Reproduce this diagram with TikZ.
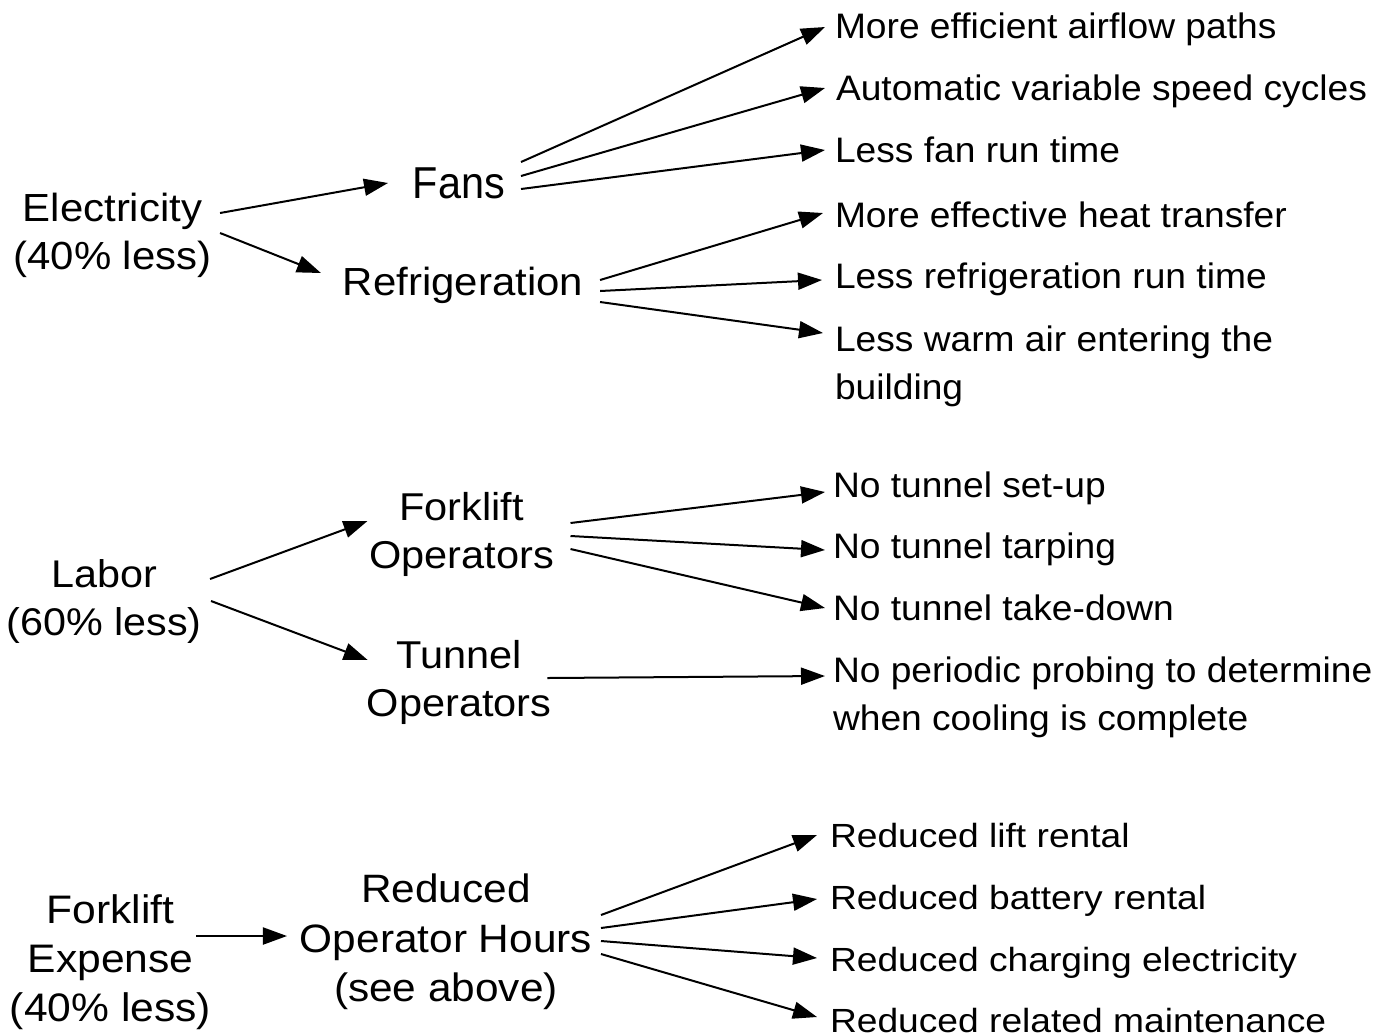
\documentclass[tikz,border=0pt]{standalone}
\usepackage{fontspec}
\setmainfont{Liberation Sans}
\newfontfamily\fB{Liberation Sans}[FakeStretch=1.07]
\newfontfamily\fC{Liberation Sans}[FakeStretch=0.926]
\newfontfamily\fD{Liberation Sans}[FakeStretch=1.05]
\newfontfamily\fE{Liberation Sans}[FakeStretch=1.11]
\usetikzlibrary{arrows.meta,calc}
\begin{document}
\begin{tikzpicture}[x=0.5pt,y=-0.5pt,
  lbl/.style={inner sep=0pt, outer sep=0pt, align=center, anchor=north},
  mid/.style={lbl, font=\fB\fontsize{19.4}{24.25}\selectfont},
  rt/.style={inner sep=0pt, outer sep=0pt, align=left, anchor=north west, font=\fD\fontsize{17.7}{23.9}\selectfont},
  rtb/.style={rt, font=\fE\fontsize{16.75}{23.5}\selectfont},
  arr/.style={line width=1pt, -{Triangle[length=12pt,width=8.5pt]}}]
\path[fill=white, use as bounding box] (0,0) rectangle (1390,1034);

% ---------- Electricity ----------
\node[lbl, font=\fB\fontsize{19.6}{24}\selectfont] (elec) at (112.5,193.5) {Electricity\\(40\% less)};
\node[lbl, font=\fC\fontsize{22.35}{26}\selectfont] (fans) at (459,168) {Fans};
\node[lbl, font=\fB\fontsize{19.6}{24}\selectfont] (refr) at (463,267) {Refrigeration};
\node[rt] (t1) at (835,13) {More efficient airflow paths};
\node[rt] (t2) at (836,75) {Automatic variable speed cycles};
\node[rt] (t3) at (835,137) {Less fan run time};
\node[rt] (t4) at (835,202) {More effective heat transfer};
\node[rt] (t5) at (835,263) {Less refrigeration run time};
\node[rt] (t6) at (835,326) {Less warm air entering the\\building};

\draw[arr] ($(elec.north east)+(8.5,19.5)$) -- ($(fans.north west)+(-25,15)$);
\draw[arr] ($(elec.north east)+(8.5,39.5)$) -- ($(refr.north west)+(-22,6)$);
\draw[arr] ($(fans.north east)+(16,-6)$) -- ($(t1.north west)+(-10,14)$);
\draw[arr] ($(fans.north east)+(16,8)$) -- ($(t2.north west)+(-11,13)$);
\draw[arr] ($(fans.north east)+(16,21)$) -- ($(t3.north west)+(-10,13)$);
\draw[arr] ($(refr.north east)+(17,13)$) -- ($(t4.north west)+(-12,11)$);
\draw[arr] ($(refr.north east)+(17,24)$) -- ($(t5.north west)+(-13,17)$);
\draw[arr] ($(refr.north east)+(17,35)$) -- ($(t6.north west)+(-12,7)$);

% ---------- Labor ----------
\node[lbl, font=\fB\fontsize{19.3}{24}\selectfont] (labor) at (104,560) {Labor\\(60\% less)};
\node[mid] (fop) at (461.5,492) {Forklift\\Operators};
\node[mid] (top) at (459,640) {Tunnel\\Operators};
\node[rt] (n1) at (833,472) {No tunnel set-up};
\node[rt] (n2) at (833,533) {No tunnel tarping};
\node[rt] (n3) at (833,595) {No tunnel take-down};
\node[rt] (n4) at (833,657) {No periodic probing to determine\\when cooling is complete};

\draw[arr] ($(labor.north east)+(8.5,19)$) -- ($(fop.north west)+(-1.7,29)$);
\draw[arr] ($(labor.north east)+(9.5,41)$) -- ($(top.north west)+(1,20)$);
\draw[arr] ($(fop.north east)+(16.7,31)$) -- ($(n1.north west)+(-8,20)$);
\draw[arr] ($(fop.north east)+(16.7,44)$) -- ($(n2.north west)+(-8,17)$);
\draw[arr] ($(fop.north east)+(16.7,57)$) -- ($(n3.north west)+(-8,13)$);
\draw[arr] ($(top.north east)+(-4,38)$) -- ($(n4.north west)+(-8,19)$);

% ---------- Forklift expense ----------
\node[lbl, font=\fB\fontsize{19.9}{24.5}\selectfont] (fexp) at (110.5,895) {Forklift\\Expense\\(40\% less)};
\node[lbl, font=\fB\fontsize{19.8}{24.75}\selectfont] (roh) at (446,874) {Reduced\\Operator Hours\\(see above)};
\node[rtb] (r1) at (830,823) {Reduced lift rental};
\node[rtb] (r2) at (830,885) {Reduced battery rental};
\node[rtb] (r3) at (830,947) {Reduced charging electricity};
\node[rtb] (r4) at (830,1008) {Reduced related maintenance};

\draw[arr] ($(fexp.north east)+(-15,41)$) -- ($(roh.north west)+(-13,62)$);
\draw[arr] ($(roh.north east)+(9,41)$) -- ($(r1.north west)+(-13,12)$);
\draw[arr] ($(roh.north east)+(9,54)$) -- ($(r2.north west)+(-13,14)$);
\draw[arr] ($(roh.north east)+(9,67)$) -- ($(r3.north west)+(-13,11)$);
\draw[arr] ($(roh.north east)+(9,80)$) -- ($(r4.north west)+(-13,9)$);
\end{tikzpicture}
\end{document}
